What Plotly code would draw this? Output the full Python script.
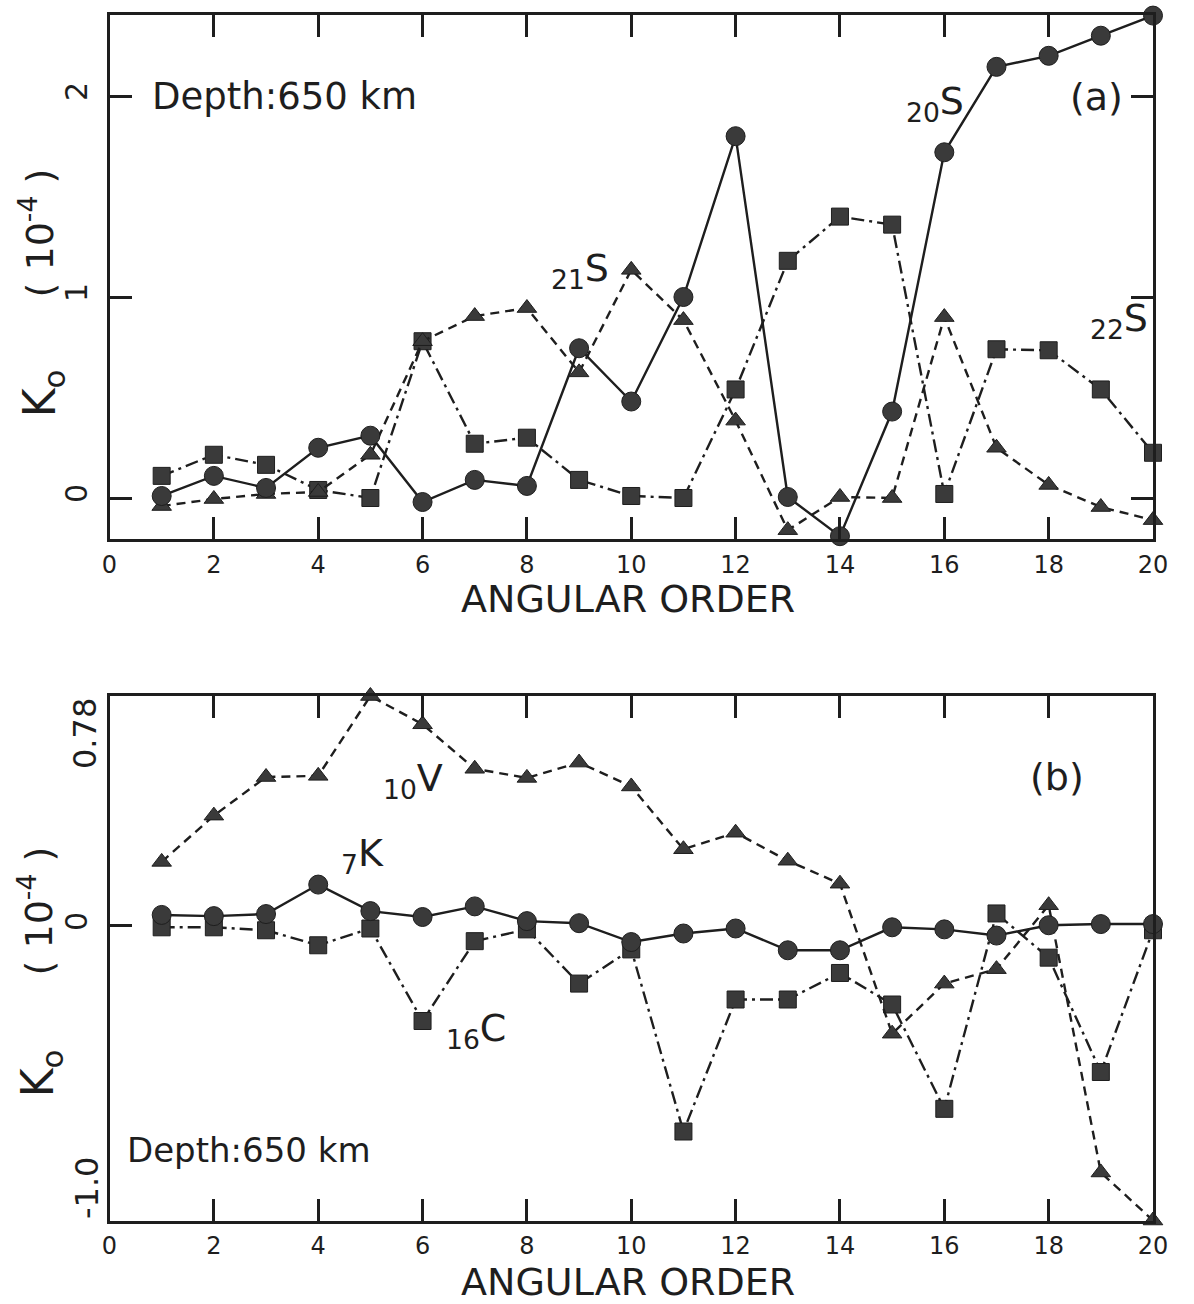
import plotly.graph_objects as go

W, H = 1194, 1304

# ---------------- data ----------------
orders = list(range(1, 21))
x_tickvals = list(range(0, 21, 2))
x_ticktext = [str(v) for v in x_tickvals]

# panel (a)
s20 = [0.01, 0.11, 0.05, 0.25, 0.31, -0.02, 0.09, 0.06, 0.745, 0.48,
       1.00, 1.80, 0.005, -0.19, 0.43, 1.72, 2.145, 2.20, 2.30, 2.40]
s21 = [-0.04, -0.005, 0.02, 0.03, 0.215, 0.78, 0.905, 0.945, 0.625, 1.135,
       0.885, 0.385, -0.16, 0.005, 0.0, 0.90, 0.25, 0.065, -0.045, -0.11]
s22 = [0.11, 0.215, 0.165, 0.04, 0.0, 0.78, 0.27, 0.30, 0.09, 0.01,
       0.0, 0.54, 1.18, 1.40, 1.36, 0.02, 0.74, 0.735, 0.54, 0.225]
a_yticks = [0, 1, 2]
a_yticktext = ["0", "1", "2"]

# panel (b)
v10 = [0.217, 0.374, 0.505, 0.509, 0.78, 0.684, 0.533, 0.502, 0.554, 0.473,
       0.26, 0.316, 0.221, 0.143, -0.366, -0.196, -0.147, 0.07, -0.837, -1.0]
k7 = [0.037, 0.033, 0.04, 0.14, 0.05, 0.03, 0.066, 0.016, 0.009, -0.055,
      -0.026, -0.009, -0.083, -0.083, -0.005, -0.012, -0.033, 0.002, 0.006, 0.006]
c16 = [-0.005, -0.005, -0.015, -0.066, -0.009, -0.323, -0.052, -0.012, -0.196, -0.08,
       -0.698, -0.25, -0.25, -0.16, -0.267, -0.621, 0.042, -0.108, -0.496, -0.015]
b_ymin, b_ymax = -1.0, 0.78

# ---------------- helpers ----------------
def pxx(x):
    return x / W

def pxy(y):
    return 1 - y / H

INK = "#1e1e1e"
MARK = "#3a3a3a"
FONT = "DejaVu Sans"

DASH = "9px,6px"
DASHDOT = "13px,5px,3px,5px"

fig = go.Figure()

def add_series(xref, yref, y, symbol, dash, size):
    fig.add_trace(go.Scatter(
        x=orders, y=y, xaxis=xref, yaxis=yref, mode="lines+markers",
        line=dict(color=INK, width=2.4, dash=dash),
        marker=dict(symbol=symbol, size=size, color=MARK,
                    line=dict(color=INK, width=1)),
        cliponaxis=False, showlegend=False, hoverinfo="skip"))

# panel (a)
add_series("x", "y", s22, "square", DASHDOT, 17)
add_series("x", "y", s21, "triangle-up", DASH, 17)
add_series("x", "y", s20, "circle", "solid", 19)
# panel (b)
add_series("x2", "y2", c16, "square", DASHDOT, 17)
add_series("x2", "y2", v10, "triangle-up", DASH, 17)
add_series("x2", "y2", k7, "circle", "solid", 19)

xdom = [103.5 / W, 1167.5 / W]
axis_common = dict(showline=True, linecolor=INK, linewidth=3, mirror="ticks",
                   ticks="inside", ticklen=22, tickwidth=3, tickcolor=INK,
                   showgrid=False, zeroline=False)

fig.update_layout(
    width=W, height=H,
    margin=dict(l=0, r=0, t=0, b=0),
    paper_bgcolor="white", plot_bgcolor="white",
    font=dict(family=FONT, color=INK),
    xaxis=dict(domain=xdom, range=[0, 20], tickvals=x_tickvals, ticktext=x_ticktext,
               tickfont=dict(size=24, family=FONT, color=INK), anchor="y",
               ticklabelstandoff=2, **axis_common),
    yaxis=dict(domain=[pxy(539), pxy(15)], range=[-0.204, 2.403],
               tickvals=a_yticks, ticktext=a_yticktext, tickangle=-90,
               ticklabelstandoff=8,
               tickfont=dict(size=30, family=FONT, color=INK), anchor="x",
               **axis_common),
    xaxis2=dict(domain=xdom, range=[0, 20], tickvals=x_tickvals, ticktext=x_ticktext,
                tickfont=dict(size=24, family=FONT, color=INK), anchor="y2",
                ticklabelstandoff=2, **axis_common),
    yaxis2=dict(domain=[pxy(1220.5), pxy(696)], range=[b_ymin, b_ymax],
                tickvals=[0], ticktext=["0"], tickangle=-90,
                ticklabelstandoff=8,
                tickfont=dict(size=30, family=FONT, color=INK), anchor="x2",
                showline=True, linecolor=INK, linewidth=3, mirror=True,
                ticks="inside", ticklen=22, tickwidth=3, tickcolor=INK,
                showgrid=False, zeroline=False),
)

ann = []

def text(x, y, t, size, angle=0, xanchor="center", yanchor="middle", xref="paper", yref="paper"):
    ann.append(dict(x=x, y=y, xref=xref, yref=yref, text=t, showarrow=False,
                    textangle=angle, xanchor=xanchor, yanchor=yanchor,
                    font=dict(size=size, family=FONT, color=INK)))

# y-axis end labels for panel (b)
text(pxx(78), b_ymax, "0.78", 32, angle=-90, yanchor="top", yref="y2")
text(pxx(80), b_ymin, "-1.0", 32, angle=-90, yanchor="bottom", yref="y2")

# y-axis titles (two parts, as spaced in the original)
text(pxx(35), pxy(393), "K<sub>o</sub>", 44, angle=-90)
text(pxx(30), pxy(233), "( 10<sup>-4</sup> )", 38, angle=-90)
text(pxx(33), pxy(1073), "K<sub>o</sub>", 44, angle=-90)
text(pxx(29), pxy(911), "( 10<sup>-4</sup> )", 38, angle=-90)

# x-axis titles
text(pxx(632), pxy(599), "ANGULAR ORDER", 38)
text(pxx(632), pxy(1282), "ANGULAR ORDER", 38)

# in-panel texts
text(pxx(282), pxy(97), "Depth:650 km", 37)
text(pxx(246), pxy(1150), "Depth:650 km", 34)
text(pxx(1110), pxy(97), "(a)", 38)
text(pxx(1070), pxy(777), "(b)", 38)

# curve labels
text(pxx(945), pxy(104), "<sub>20</sub>S", 38)
text(pxx(583), pxy(270), "<sub>21</sub>S", 38)
text(pxx(1133), pxy(320), "<sub>22</sub>S", 38)
text(pxx(413), pxy(780), "<sub>10</sub>V", 38)
text(pxx(361), pxy(855), "<sub>7</sub>K", 38)
text(pxx(477), pxy(1030), "<sub>16</sub>C", 38)

fig.update_layout(annotations=ann)

fig.write_html("out.html")
